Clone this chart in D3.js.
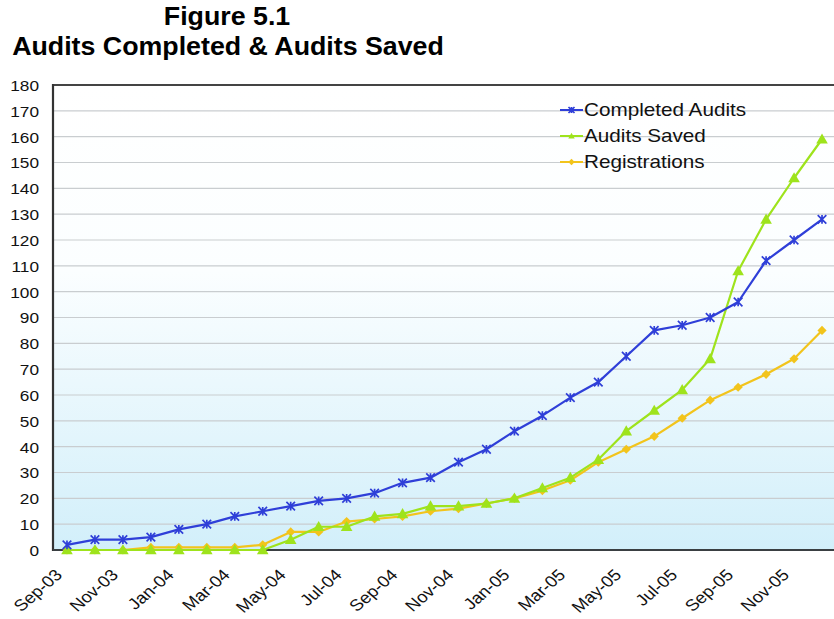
<!DOCTYPE html>
<html>
<head>
<meta charset="utf-8">
<script src="https://cdn.jsdelivr.net/npm/d3@7"></script>
<style>
  html, body { margin: 0; padding: 0; background: #ffffff; }
  svg { display: block; font-family: "Liberation Sans", Arial, sans-serif; }
</style>
</head>
<body>
<svg id="chart" width="834" height="619"></svg>
<script>
const months = ["Sep-03","Oct-03","Nov-03","Dec-03","Jan-04","Feb-04","Mar-04","Apr-04","May-04","Jun-04","Jul-04","Aug-04","Sep-04","Oct-04","Nov-04","Dec-04","Jan-05","Feb-05","Mar-05","Apr-05","May-05","Jun-05","Jul-05","Aug-05","Sep-05","Oct-05","Nov-05","Dec-05"];
const tickLabels = ["Sep-03","Nov-03","Jan-04","Mar-04","May-04","Jul-04","Sep-04","Nov-04","Jan-05","Mar-05","May-05","Jul-05","Sep-05","Nov-05"];
const yTicks = [0,10,20,30,40,50,60,70,80,90,100,110,120,130,140,150,160,170,180];
const completedAudits = [2,4,4,5,8,10,13,15,17,19,20,22,26,28,34,39,46,52,59,65,75,85,87,90,96,112,120,128];
const auditsSaved = [0,0,0,0,0,0,0,0,4,9,9,13,14,17,17,18,20,24,28,35,46,54,62,74,108,128,144,159];
const registrations = [0,0,0,1,1,1,1,2,7,7,11,12,13,15,16,18,20,23,27,34,39,44,51,58,63,68,74,85];
const seriesNames = ["Completed Audits","Audits Saved","Registrations"];
const titleLines = ["Figure 5.1","Audits Completed & Audits Saved"];

const SX = 1.15; // horizontal text stretch seen in the reference
const svg = d3.select("#chart");
const L = 53, T = 85, B = 550, R = 836;

const x = d3.scaleBand().domain(months).range([L, R]);
const cx = d => x(d) + x.bandwidth() / 2;
const y = d3.scaleLinear().domain([0, 180]).range([B, T]);

// background gradient
const defs = svg.append("defs");
const grad = defs.append("linearGradient").attr("id", "bg").attr("x1", 0).attr("y1", 0).attr("x2", 0).attr("y2", 1);
grad.append("stop").attr("offset", "0%").attr("stop-color", "#ffffff");
grad.append("stop").attr("offset", "40%").attr("stop-color", "#fbfeff");
grad.append("stop").attr("offset", "100%").attr("stop-color", "#d2effa");
svg.append("rect").attr("x", L).attr("y", T).attr("width", R - L).attr("height", B - T).attr("fill", "url(#bg)");

// gridlines
svg.append("g").selectAll("line").data(yTicks.filter(v => v > 0 && v < 180)).join("line")
  .attr("x1", L).attr("x2", R).attr("y1", d => y(d)).attr("y2", d => y(d))
  .attr("stroke", "#c9cdd0").attr("stroke-width", 1.2);

// y axis labels
const yAxis = d3.axisLeft(y).tickValues(yTicks).tickSize(0).tickPadding(0);
const yg = svg.append("g").attr("transform", `translate(${L},0)`).call(yAxis);
yg.select(".domain").remove();
yg.selectAll(".tick text").remove();
yg.selectAll(".tick").append("text")
  .attr("transform", `translate(-14,0) scale(${SX},1)`)
  .attr("text-anchor", "end").attr("dy", "0.36em")
  .attr("font-size", 15).attr("fill", "#111").text(d => d);

// frame lines
svg.append("line").attr("x1", L).attr("x2", R).attr("y1", T).attr("y2", T).attr("stroke", "#444").attr("stroke-width", 2);
svg.append("line").attr("x1", L).attr("x2", L).attr("y1", T - 1).attr("y2", B + 1).attr("stroke", "#333").attr("stroke-width", 2.2);
svg.append("line").attr("x1", L).attr("x2", R).attr("y1", B).attr("y2", B).attr("stroke", "#3a3f42").attr("stroke-width", 2.2);

// x axis labels
const xAxis = d3.axisBottom(x).tickValues(tickLabels).tickSize(0);
const xg = svg.append("g").attr("transform", `translate(0,${B})`).call(xAxis);
xg.select(".domain").remove();
xg.selectAll(".tick text").remove();
xg.selectAll(".tick").append("text")
  .attr("transform", `translate(-13,18) scale(${SX},1) rotate(-45)`)
  .attr("text-anchor", "end").attr("dy", "0.71em")
  .attr("font-size", 16).attr("fill", "#111").text(d => d);

// series
const colors = ["#2f3fd8", "#9ee31c", "#f2c41c"];
const data = [completedAudits, auditsSaved, registrations];
const line = d3.line().x((d, i) => cx(months[i])).y(d => y(d));

function marker(g, type, color, px, py, s) {
  if (type === 0) {
    const r = s || 4.3;
    g.append("path").attr("d", `M${px-r},${py-r}L${px+r},${py+r}M${px-r},${py+r}L${px+r},${py-r}M${px},${py-r}L${px},${py+r}`)
      .attr("stroke", color).attr("stroke-width", 1.7).attr("fill", "none");
  } else if (type === 1) {
    const r = s || 5.8;
    g.append("path").attr("d", `M${px},${py-r}L${px+r},${py+r*0.75}L${px-r},${py+r*0.75}Z`).attr("fill", color);
  } else {
    const r = s || 4.6;
    g.append("path").attr("d", `M${px},${py-r}L${px+r},${py}L${px},${py+r}L${px-r},${py}Z`).attr("fill", color);
  }
}

// draw in order: registrations, saved, completed
[2, 1, 0].forEach(si => {
  const g = svg.append("g");
  g.append("path").datum(data[si]).attr("d", line)
    .attr("fill", "none").attr("stroke", colors[si]).attr("stroke-width", 2.2).attr("stroke-linejoin", "round");
  data[si].forEach((v, i) => marker(g, si, colors[si], cx(months[i]), y(v)));
});

// legend
const lg = svg.append("g");
seriesNames.forEach((name, i) => {
  const yy = 110 + i * 26;
  lg.append("line").attr("x1", 560).attr("x2", 583).attr("y1", yy).attr("y2", yy).attr("stroke", colors[i]).attr("stroke-width", 2);
  marker(lg, i, colors[i], 571.5, yy, i === 0 ? 3 : 3.2);
  lg.append("text").attr("transform", `translate(584,${yy}) scale(${SX},1)`)
    .attr("dy", "0.36em").attr("font-size", 18).attr("fill", "#111").text(name);
});

// titles
svg.append("text").attr("transform", `translate(227,25) scale(1.03,1)`)
  .attr("text-anchor", "middle").attr("font-weight", "bold").attr("font-size", 26).attr("fill", "#000").text(titleLines[0]);
svg.append("text").attr("transform", `translate(228,55) scale(1.03,1)`)
  .attr("text-anchor", "middle").attr("font-weight", "bold").attr("font-size", 26).attr("fill", "#000").text(titleLines[1]);
</script>
</body>
</html>
